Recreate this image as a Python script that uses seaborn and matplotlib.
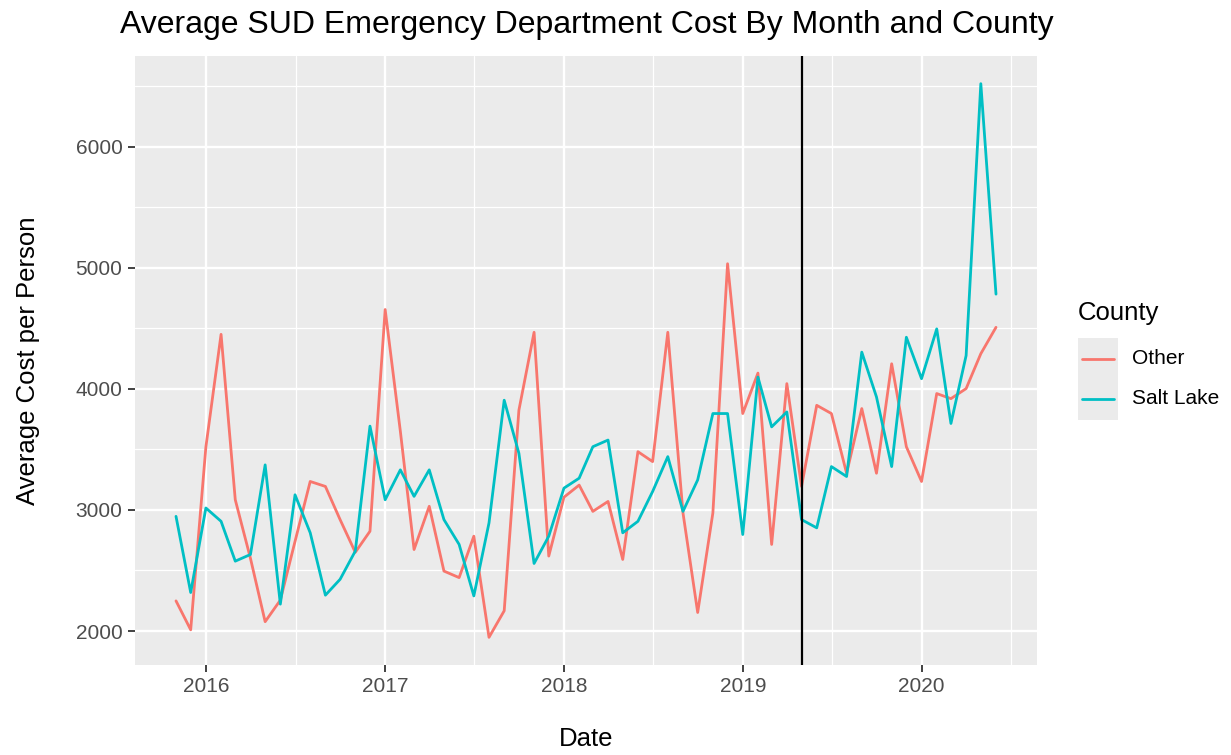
import matplotlib
matplotlib.use("Agg")
import matplotlib.pyplot as plt
import matplotlib.dates as mdates
from matplotlib.lines import Line2D
from matplotlib.patches import Rectangle
import numpy as np
import pandas as pd
import seaborn as sns

# Monthly average SUD emergency department cost per person
months = pd.date_range("2015-11-01", "2020-06-01", freq="MS")

other_cost = [
    2249, 2010,
    3520, 4450, 3084, 2600, 2077, 2255, 2740, 3235, 3194, 2920, 2650, 2824,
    4655, 3650, 2673, 3030, 2495, 2441, 2783, 1948, 2167, 3823, 4467, 2619,
    3105, 3205, 2988, 3070, 2591, 3481, 3399, 4467, 2975, 2153, 2975, 5033,
    3796, 4130, 2715, 4043, 3194, 3864, 3796, 3303, 3837, 3303, 4207, 3522,
    3235, 3961, 3919, 4002, 4290, 4508,
]

salt_lake_cost = [
    2947, 2318,
    3016, 2906, 2577, 2632, 3372, 2222, 3125, 2811, 2296, 2427, 2660, 3692,
    3084, 3331, 3112, 3331, 2920, 2715, 2290, 2893, 3906, 3468, 2558, 2783,
    3180, 3262, 3522, 3577, 2811, 2906, 3152, 3440, 2988, 3248, 3796, 3796,
    2797, 4097, 3686, 3809, 2920, 2852, 3358, 3276, 4303, 3933, 3358, 4426,
    4084, 4495, 3714, 4275, 6520, 4782,
]

counties = ["Other", "Salt Lake"]
county_colors = ["#F8766D", "#00BFC4"]
policy_date = pd.Timestamp("2019-05-01")

title_text = "Average SUD Emergency Department Cost By Month and County"
x_title = "Date"
y_title = "Average Cost per Person"
legend_title = "County"

df = pd.concat([
    pd.DataFrame({"Date": months, "Cost": other_cost, "County": counties[0]}),
    pd.DataFrame({"Date": months, "Cost": salt_lake_cost, "County": counties[1]}),
], ignore_index=True)

sns.set_theme(style="darkgrid")
plt.rcParams["font.family"] = ["Liberation Sans", "DejaVu Sans"]

W, H = 1231, 755
fig = plt.figure(figsize=(W / 100, H / 100), dpi=100)
fig.patch.set_facecolor("white")

# panel in pixel coordinates
px_left, px_right, px_top, px_bottom = 135, 1037, 56, 665
ax = fig.add_axes([px_left / W, 1 - px_bottom / H,
                   (px_right - px_left) / W, (px_bottom - px_top) / H])
ax.set_facecolor("#EBEBEB")

sns.lineplot(data=df, x="Date", y="Cost", hue="County",
             palette=dict(zip(counties, county_colors)),
             linewidth=2.0, legend=False, ax=ax, zorder=3)

ax.axvline(policy_date, color="black", linewidth=1.6, zorder=4)

ax.set_xticks(mdates.date2num(pd.to_datetime([f"{y}-01-01" for y in range(2016, 2021)])))
ax.set_xticklabels([str(y) for y in range(2016, 2021)])
ax.set_xticks(mdates.date2num(pd.to_datetime([f"{y}-07-02" for y in range(2016, 2021)])), minor=True)
ax.set_yticks([2000, 3000, 4000, 5000, 6000])
ax.set_yticklabels(["2000", "3000", "4000", "5000", "6000"])
ax.set_yticks([2500, 3500, 4500, 5500, 6500], minor=True)

# ggplot-style 5% expansion of the data range (set after the ticks)
d0, d1 = mdates.date2num(months[0]), mdates.date2num(months[-1])
ax.set_xlim(d0 - 0.05 * (d1 - d0), d1 + 0.05 * (d1 - d0))
all_vals = np.array(other_cost + salt_lake_cost)
lo, hi = all_vals.min(), all_vals.max()
ax.set_ylim(lo - 0.05 * (hi - lo), hi + 0.05 * (hi - lo))

ax.grid(which="major", color="white", linewidth=1.7)
ax.grid(which="minor", color="white", linewidth=0.9)
ax.set_axisbelow(True)
for s in ax.spines.values():
    s.set_visible(False)

ax.tick_params(which="major", length=5, width=1.3, color="#333333",
               labelsize=15, labelcolor="#4D4D4D", pad=4,
               bottom=True, left=True)
ax.tick_params(which="minor", length=0)

ax.set_xlabel(x_title, fontsize=18.5, color="black")
ax.set_ylabel(y_title, fontsize=18.5, color="black")
ax.xaxis.set_label_coords(0.5, -(739 - px_bottom) / (px_bottom - px_top))
ax.xaxis.label.set_va("center")
ax.yaxis.set_label_coords(-(px_left - 28) / (px_right - px_left), 0.5)
ax.yaxis.label.set_va("center")

fig.text(120 / W, 1 - 33 / H, title_text, fontsize=23.0, color="black",
         ha="left", va="baseline")

# legend drawn ggplot-style: title, grey key boxes, coloured key lines
fig.text(1078 / W, 1 - 313 / H, legend_title, fontsize=18.5, color="black",
         ha="left", va="center")
fig.patches.append(Rectangle((1078 / W, 1 - 420 / H), 40 / W, 82 / H,
                             transform=fig.transFigure, facecolor="#EBEBEB",
                             edgecolor="none"))
for i, (name, col) in enumerate(zip(counties, county_colors)):
    yk = 359 + 40 * i
    fig.add_artist(Line2D([1082 / W, 1114 / W], [1 - yk / H, 1 - yk / H],
                          transform=fig.transFigure, color=col, linewidth=2.0))
    fig.text(1132 / W, 1 - yk / H, name, fontsize=15, color="black",
             ha="left", va="center")

fig.savefig("out.png", dpi=100)
